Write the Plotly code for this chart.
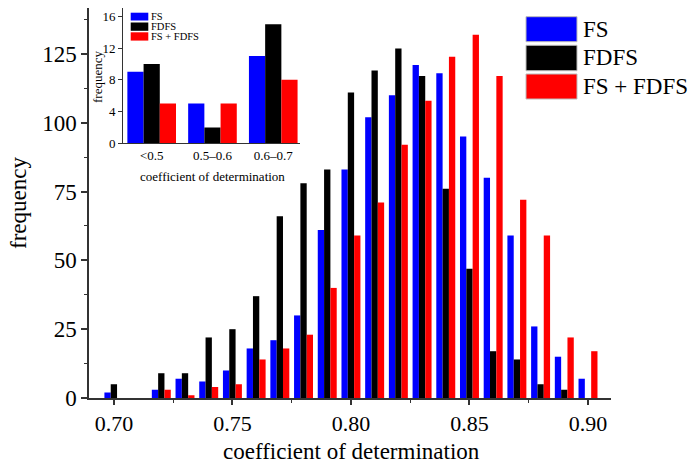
import plotly.graph_objects as go

# ---------------- data ----------------
bins = [0.70, 0.71, 0.72, 0.73, 0.74, 0.75, 0.76, 0.77, 0.78, 0.79, 0.80,
        0.81, 0.82, 0.83, 0.84, 0.85, 0.86, 0.87, 0.88, 0.89, 0.90]
fs = [2, 0, 3, 7, 6, 10, 18, 21, 30, 61, 83, 102, 110, 121, 118, 95, 80, 59, 26, 15, 7]
fdfs = [5, 0, 9, 9, 22, 25, 37, 66, 78, 83, 111, 119, 127, 117, 76, 47, 17, 14, 5, 3, 0]
fs_fdfs = [0, 0, 3, 1, 4, 5, 14, 18, 23, 40, 59, 71, 92, 108, 124, 132, 117, 72, 59, 22, 17]

inset_cats = ["<0.5", "0.5–0.6", "0.6–0.7"]
inset_fs = [9, 5, 11]
inset_fdfs = [10, 2, 15]
inset_fs_fdfs = [5, 5, 8]

series_names = ["FS", "FDFS", "FS + FDFS"]
colors = ["#0000ff", "#000000", "#ff0000"]

FONT = "Liberation Serif, Times New Roman, serif"
AX = "#333333"

# plot-area geometry (pixels)
L, R, T, B = 89, 611, 8, 398
W, H = R - L, B - T


def px(x):
    return (x - L) / W


def py(y):
    return (B - y) / H


fig = go.Figure()
for name, vals, c in zip(series_names, [fs, fdfs, fs_fdfs], colors):
    fig.add_trace(go.Bar(x=bins, y=vals, name=name, marker_color=c,
                         marker_line_width=0, showlegend=False))
for name, vals, c in zip(series_names, [inset_fs, inset_fdfs, inset_fs_fdfs], colors):
    fig.add_trace(go.Bar(x=inset_cats, y=vals, name=name, marker_color=c,
                         marker_line_width=0, showlegend=False,
                         xaxis="x2", yaxis="y2"))

annotations = []
shapes = []

# main legend (boxes + labels)
leg_boxes = [(16.7, 41.7), (45.3, 70.7), (74.0, 99.0)]
for (y0, y1), name, c in zip(leg_boxes, series_names, colors):
    shapes.append(dict(type="rect", xref="paper", yref="paper",
                       x0=px(526), x1=px(577), y0=py(y1), y1=py(y0),
                       fillcolor=c, line=dict(color="#bbbbbb", width=1)))
    annotations.append(dict(text=name, xref="paper", yref="paper",
                            x=px(581), y=py((y0 + y1) / 2), xanchor="left",
                            yanchor="middle", showarrow=False,
                            font=dict(family=FONT, size=23, color="black")))

# inset legend
in_boxes = [(12.7, 20.5), (22.5, 30.8), (32.3, 40.6)]
for (y0, y1), name, c in zip(in_boxes, series_names, colors):
    shapes.append(dict(type="rect", xref="paper", yref="paper",
                       x0=px(130.7), x1=px(148.3), y0=py(y1), y1=py(y0),
                       fillcolor=c, line=dict(width=0)))
    annotations.append(dict(text=name, xref="paper", yref="paper",
                            x=px(149), y=py((y0 + y1) / 2), xanchor="left",
                            yanchor="middle", showarrow=False,
                            font=dict(family=FONT, size=10.5, color="black")))

# titles
annotations.append(dict(text="frequency", xref="paper", yref="paper",
                        x=px(18), y=0.5, textangle=-90, xanchor="center",
                        yanchor="middle", showarrow=False,
                        font=dict(family=FONT, size=23, color="black")))
annotations.append(dict(text="coefficient of determination", xref="paper",
                        yref="paper", x=px(351), y=py(451), xanchor="center",
                        yanchor="middle", showarrow=False,
                        font=dict(family=FONT, size=23, color="black")))
annotations.append(dict(text="frequency", xref="paper", yref="paper",
                        x=px(97), y=py(77), textangle=-90, xanchor="center",
                        yanchor="middle", showarrow=False,
                        font=dict(family=FONT, size=13, color="black")))
annotations.append(dict(text="coefficient of determination", xref="paper",
                        yref="paper", x=px(212), y=py(176), xanchor="center",
                        yanchor="middle", showarrow=False,
                        font=dict(family=FONT, size=13, color="black")))

fig.update_layout(
    width=690, height=467,
    margin=dict(l=L, r=690 - R, t=T, b=467 - B, pad=0),
    paper_bgcolor="white", plot_bgcolor="white",
    barmode="group", bargap=0.2, bargroupgap=0,
    font=dict(family=FONT, color="black"),
    showlegend=False,
    xaxis=dict(range=[0.6895, 0.9097], tick0=0.70, dtick=0.05, tickformat=".2f",
               showgrid=False, zeroline=False, showline=True, linecolor=AX,
               linewidth=1.5, ticks="outside", ticklen=5, tickcolor=AX,
               tickwidth=1.5, tickfont=dict(family=FONT, size=22, color="black"),
               minor=dict(dtick=0.025, tick0=0.70, ticks="outside", ticklen=3,
                          tickcolor=AX, tickwidth=1.2, showgrid=False),
               domain=[0, 1]),
    yaxis=dict(range=[0, 141.7], tick0=0, dtick=25,
               showgrid=False, zeroline=False, showline=True, linecolor=AX,
               linewidth=1.5, ticks="outside", ticklen=6, tickcolor=AX,
               tickwidth=1.5, tickfont=dict(family=FONT, size=23, color="black"),
               minor=dict(dtick=12.5, tick0=0, ticks="outside", ticklen=3,
                          tickcolor=AX, tickwidth=1.2, showgrid=False),
               domain=[0, 1]),
    xaxis2=dict(domain=[px(123.3), px(300)], anchor="y2", type="category",
                range=[-0.467, 2.44], showgrid=False, zeroline=False,
                showline=True, linecolor=AX, linewidth=1.2, ticks="",
                tickfont=dict(family=FONT, size=13, color="black")),
    yaxis2=dict(domain=[py(143.3), py(8.3)], anchor="x2", range=[0, 17],
                tick0=0, dtick=4, showgrid=False, zeroline=False,
                showline=True, linecolor=AX, linewidth=1.2, ticks="outside",
                ticklen=4, tickcolor=AX, tickwidth=1.2,
                tickfont=dict(family=FONT, size=13, color="black")),
    annotations=annotations,
    shapes=shapes,
)

fig.write_html("out.html")
